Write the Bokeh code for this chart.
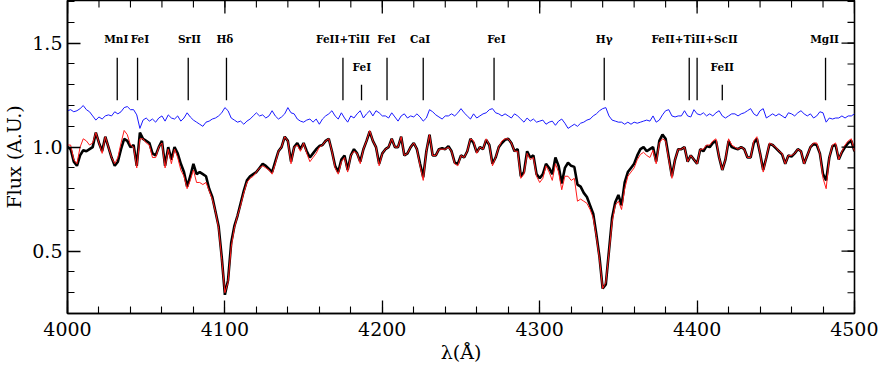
import math
from bokeh.plotting import figure
from bokeh.models import Range1d, FixedTicker, PrintfTickFormatter
from bokeh.core.properties import value
from bokeh.embed import file_html
from bokeh.resources import INLINE

# wavelength grid (Angstrom), 2 A sampling
wave = list(range(4000, 4501, 2))

# observed spectrum (black)
flux_obs = [
    1.00, 0.99, 0.93, 0.91, 0.96, 0.985, 0.98, 0.99, 1.00, 1.07,
    1.02, 0.98, 1.05, 1.00, 0.95, 0.91, 0.93, 0.99, 1.04, 1.03,
    1.00, 1.01, 0.91, 1.07, 1.04, 1.03, 1.02, 0.97, 0.96, 1.00,
    1.03, 0.91, 1.00, 0.94, 1.00, 0.97, 0.92, 0.88, 0.81, 0.86,
    0.92, 0.87, 0.88, 0.87, 0.86, 0.80, 0.76, 0.69, 0.62, 0.47,
    0.29, 0.36, 0.54, 0.62, 0.67, 0.73, 0.79, 0.84, 0.86, 0.87,
    0.88, 0.90, 0.92, 0.91, 0.895, 0.88, 0.93, 0.98, 1.00, 1.05,
    1.03, 0.93, 1.00, 1.02, 0.99, 1.02, 0.98, 0.95, 0.97, 0.99,
    1.005, 1.01, 1.03, 1.04, 0.98, 0.91, 0.88, 0.94, 0.96, 0.89,
    0.96, 0.99, 0.97, 0.93, 0.99, 1.03, 1.075, 1.03, 1.00, 0.92,
    0.97, 0.99, 1.00, 1.04, 1.00, 1.00, 1.05, 0.96, 0.97, 1.00,
    1.02, 0.99, 0.92, 0.855, 0.98, 1.06, 0.96, 0.96, 0.99, 0.995,
    0.99, 1.005, 0.98, 0.925, 0.92, 0.96, 0.95, 0.98, 1.04, 1.02,
    0.975, 1.00, 0.99, 1.035, 1.01, 0.92, 0.95, 1.00, 1.02, 1.035,
    1.04, 1.02, 0.98, 0.99, 0.86, 0.88, 0.98, 0.95, 0.96, 0.87,
    0.85, 0.87, 0.92, 0.90, 0.87, 0.95, 0.91, 0.825, 0.90, 0.925,
    0.91, 0.905, 0.82, 0.81, 0.78, 0.76, 0.72, 0.68, 0.58, 0.47,
    0.32, 0.34, 0.50, 0.66, 0.735, 0.77, 0.72, 0.83, 0.88, 0.90,
    0.92, 0.96, 0.99, 1.00, 0.98, 0.99, 1.00, 0.93, 1.03, 1.06,
    1.04, 0.95, 0.86, 0.94, 0.99, 0.99, 1.00, 0.93, 0.96, 0.94,
    0.92, 0.99, 0.98, 1.005, 1.00, 1.02, 1.03, 0.95, 0.89, 0.94,
    1.03, 1.00, 0.995, 0.99, 1.00, 0.99, 0.95, 0.95, 1.02, 1.04,
    0.97, 0.89, 0.95, 1.015, 1.01, 0.995, 0.98, 0.965, 0.92, 0.96,
    0.955, 0.97, 0.99, 0.98, 0.92, 0.96, 1.00, 1.015, 1.01, 0.97,
    0.87, 0.84, 0.95, 1.005, 1.01, 0.94, 0.975, 1.00, 1.02, 1.03,
    0.98,
]

# synthetic / model spectrum (red)
flux_model = [
    1.01, 1.01, 0.94, 0.92, 1.00, 1.04, 1.03, 1.01, 1.02, 1.07,
    1.02, 0.97, 1.05, 1.00, 0.95, 0.92, 0.95, 1.02, 1.08, 1.06,
    1.01, 1.00, 0.90, 1.04, 1.04, 1.02, 1.01, 0.95, 0.95, 1.00,
    1.02, 0.90, 0.99, 0.92, 0.99, 0.95, 0.89, 0.86, 0.80, 0.84,
    0.89, 0.83, 0.83, 0.82, 0.83, 0.79, 0.75, 0.69, 0.61, 0.46,
    0.30, 0.35, 0.52, 0.61, 0.67, 0.72, 0.78, 0.83, 0.85, 0.86,
    0.88, 0.90, 0.91, 0.90, 0.89, 0.87, 0.92, 0.98, 1.00, 1.05,
    1.03, 0.92, 1.00, 1.01, 0.98, 1.02, 0.97, 0.93, 0.95, 0.97,
    1.00, 1.01, 1.03, 1.04, 0.98, 0.90, 0.87, 0.93, 0.95, 0.88,
    0.96, 0.98, 0.97, 0.92, 0.99, 1.03, 1.08, 1.03, 1.00, 0.91,
    0.97, 0.99, 1.00, 1.04, 1.00, 1.00, 1.05, 0.96, 0.97, 1.00,
    1.02, 0.99, 0.91, 0.84, 0.98, 1.06, 0.96, 0.96, 0.99, 0.99,
    0.99, 1.00, 0.98, 0.92, 0.91, 0.96, 0.95, 0.98, 1.04, 1.03,
    0.97, 1.00, 0.99, 1.04, 1.01, 0.91, 0.95, 1.00, 1.03, 1.04,
    1.04, 1.02, 0.98, 0.98, 0.85, 0.87, 0.97, 0.94, 0.95, 0.86,
    0.83, 0.85, 0.91, 0.88, 0.84, 0.92, 0.88, 0.795, 0.86, 0.86,
    0.84, 0.85, 0.74, 0.75, 0.74, 0.73, 0.70, 0.66, 0.57, 0.46,
    0.32, 0.35, 0.49, 0.64, 0.72, 0.74, 0.70, 0.80, 0.86, 0.88,
    0.90, 0.94, 0.965, 0.975, 0.96, 0.95, 0.985, 0.92, 1.02, 1.04,
    1.03, 0.94, 0.85, 0.94, 0.99, 0.99, 1.00, 0.93, 0.96, 0.94,
    0.92, 0.99, 0.99, 1.01, 1.01, 1.03, 1.04, 0.95, 0.89, 0.94,
    1.04, 1.01, 1.00, 0.99, 1.00, 0.99, 0.95, 0.95, 1.03, 1.05,
    0.97, 0.88, 0.95, 1.02, 1.01, 1.00, 0.98, 0.97, 0.92, 0.96,
    0.96, 0.97, 0.99, 0.98, 0.92, 0.96, 1.00, 1.02, 1.02, 0.97,
    0.85, 0.80, 0.95, 1.01, 1.02, 0.94, 0.98, 1.01, 1.03, 1.04,
    0.98,
]

# offset comparison spectrum (blue)
flux_blue = [
    1.175, 1.18, 1.17, 1.175, 1.185, 1.20, 1.18, 1.17, 1.15, 1.13,
    1.145, 1.135, 1.15, 1.155, 1.15, 1.17, 1.16, 1.17, 1.19, 1.195,
    1.18, 1.18, 1.155, 1.09, 1.13, 1.14, 1.125, 1.135, 1.12, 1.14,
    1.15, 1.125, 1.155, 1.14, 1.135, 1.15, 1.125, 1.14, 1.165, 1.145,
    1.13, 1.12, 1.11, 1.10, 1.12, 1.125, 1.135, 1.14, 1.15, 1.165,
    1.19, 1.175, 1.14, 1.13, 1.12, 1.125, 1.11, 1.125, 1.135, 1.15,
    1.165, 1.15, 1.155, 1.14, 1.15, 1.175, 1.15, 1.135, 1.145, 1.16,
    1.19, 1.165, 1.16, 1.135, 1.125, 1.12, 1.13, 1.135, 1.12, 1.135,
    1.11, 1.135, 1.15, 1.16, 1.175, 1.15, 1.135, 1.165, 1.14, 1.12,
    1.15, 1.14, 1.16, 1.175, 1.14, 1.16, 1.175, 1.15, 1.175, 1.165,
    1.15, 1.15, 1.14, 1.165, 1.145, 1.125, 1.15, 1.16, 1.14, 1.15,
    1.145, 1.16, 1.145, 1.125, 1.14, 1.18, 1.17, 1.155, 1.145, 1.135,
    1.15, 1.15, 1.16, 1.15, 1.165, 1.185, 1.165, 1.15, 1.135, 1.16,
    1.14, 1.15, 1.16, 1.165, 1.18, 1.185, 1.165, 1.16, 1.15, 1.16,
    1.15, 1.14, 1.16, 1.15, 1.135, 1.12, 1.14, 1.125, 1.135, 1.12,
    1.125, 1.13, 1.11, 1.12, 1.125, 1.105, 1.125, 1.135, 1.115, 1.09,
    1.10, 1.11, 1.10, 1.115, 1.12, 1.13, 1.135, 1.15, 1.16, 1.175,
    1.185, 1.19, 1.15, 1.13, 1.125, 1.12, 1.12, 1.11, 1.12, 1.11,
    1.12, 1.115, 1.12, 1.125, 1.13, 1.125, 1.15, 1.12, 1.13, 1.155,
    1.175, 1.18, 1.15, 1.145, 1.15, 1.15, 1.175, 1.15, 1.145, 1.18,
    1.16, 1.155, 1.165, 1.15, 1.16, 1.15, 1.165, 1.175, 1.15, 1.14,
    1.15, 1.16, 1.16, 1.15, 1.16, 1.165, 1.175, 1.185, 1.16, 1.15,
    1.175, 1.185, 1.14, 1.15, 1.16, 1.15, 1.16, 1.15, 1.14, 1.165,
    1.16, 1.15, 1.165, 1.175, 1.16, 1.15, 1.16, 1.14, 1.15, 1.17,
    1.165, 1.12, 1.14, 1.135, 1.14, 1.14, 1.15, 1.14, 1.15, 1.15,
    1.16,
]

# line identifications
line_waves = [4031.6, 4044.5, 4076.7, 4101.0, 4175.0, 4186.8, 4203.0,
              4226.0, 4271.0, 4341.0, 4395.0, 4400.0, 4416.0, 4481.6]
line_short = [False, False, False, False, False, True, False,
              False, False, False, False, False, True, False]
label_texts = ["MnI", "FeI", "SrII", "H\u03b4", "FeII+TiII", "FeI", "FeI",
               "CaI", "FeI", "H\u03b3", "FeII+TiII+ScII", "FeII", "MgII"]
label_waves = [4031.0, 4046.0, 4077.5, 4100.0, 4175.0, 4187.0, 4202.7,
               4224.0, 4272.5, 4341.0, 4398.4, 4416.0, 4481.0]
label_short = [False, False, False, False, False, True, False,
               False, False, False, False, True, False]

# axis ticks
x_major = [4000, 4100, 4200, 4300, 4400, 4500]
x_minor = list(range(4000, 4501, 20))
y_major = [0.5, 1.0, 1.5]
y_minor = [0.2, 0.3, 0.4, 0.5, 0.6, 0.7, 0.8, 0.9, 1.0, 1.1, 1.2, 1.3, 1.4, 1.5, 1.6, 1.7]

X0, X1 = 4000, 4500
Y0, Y1 = 0.2, 1.705
SERIF = "DejaVu Serif"

p = figure(width=878, height=370, output_backend="svg", toolbar_location=None,
           x_range=Range1d(X0, X1), y_range=Range1d(Y0, Y1),
           min_border_left=67, min_border_right=24, min_border_top=0,
           min_border_bottom=57, x_axis_label="\u03bb(\u00c5)",
           y_axis_label="Flux (A.U.)")
p.grid.visible = False
p.outline_line_color = "black"
p.outline_line_width = 1.6
p.background_fill_color = "white"
p.border_fill_color = "white"

p.line(wave, flux_blue, line_color="#1a1aff", line_width=1.0)
p.line(wave, flux_obs, line_color="black", line_width=2.6)
p.line(wave, flux_model, line_color="#ff1a1a", line_width=1.0)

# identification markers
y0 = [1.225 for _ in line_waves]
y1 = [1.30 if s else 1.43 for s in line_short]
p.segment(x0=line_waves, y0=y0, x1=line_waves, y1=y1, line_color="black", line_width=1.3)
ly = [1.385 if s else 1.518 for s in label_short]
p.text(x=label_waves, y=ly, text=label_texts, text_font=value(SERIF),
       text_font_style="bold", text_font_size="10.5px", text_align="center",
       text_baseline="middle", text_color="black")

# inward ticks on the top and right frame edges
p.ray(x=x_major, y=[Y1] * len(x_major), length=13, length_units="screen",
      angle=-math.pi / 2, line_color="black", line_width=1.3)
p.ray(x=x_minor, y=[Y1] * len(x_minor), length=7, length_units="screen",
      angle=-math.pi / 2, line_color="black", line_width=1.1)
p.ray(x=[X1] * len(y_major), y=y_major, length=13, length_units="screen",
      angle=math.pi, line_color="black", line_width=1.3)
p.ray(x=[X1] * len(y_minor), y=y_minor, length=7, length_units="screen",
      angle=math.pi, line_color="black", line_width=1.1)

xt = FixedTicker(ticks=x_major, minor_ticks=x_minor)
yt = FixedTicker(ticks=y_major, minor_ticks=y_minor)

for ax, tk in ((p.xaxis[0], xt), (p.yaxis[0], yt)):
    ax.ticker = tk
    ax.major_tick_in = 13
    ax.major_tick_out = 0
    ax.minor_tick_in = 7
    ax.minor_tick_out = 0
    ax.major_tick_line_width = 1.3
    ax.minor_tick_line_width = 1.1
    ax.axis_line_width = 1.6
    ax.major_tick_line_color = "black"
    ax.minor_tick_line_color = "black"
    ax.axis_line_color = "black"
    ax.major_label_text_font = SERIF
    ax.major_label_text_font_size = "19px"
    ax.major_label_text_color = "black"
    ax.axis_label_text_font = SERIF
    ax.axis_label_text_font_size = "19px"
    ax.axis_label_text_font_style = "normal"
    ax.axis_label_text_color = "black"

p.yaxis[0].formatter = PrintfTickFormatter(format="%.1f")
p.xaxis[0].major_label_standoff = 8
p.xaxis[0].axis_label_standoff = 2
p.yaxis[0].major_label_standoff = 5
p.yaxis[0].axis_label_standoff = 4

open("out.html", "w").write(file_html(p, INLINE))
